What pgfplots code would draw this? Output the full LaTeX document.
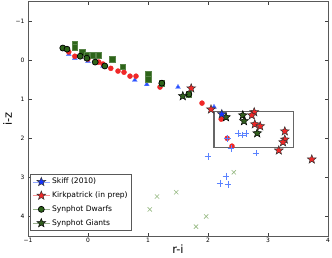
\documentclass[border=0pt]{standalone}
\usepackage{fontspec}
\setmainfont{DejaVu Sans}
\usepackage{pgfplots}
\pgfplotsset{compat=1.18}
\definecolor{mblue}{RGB}{40,80,255}
\definecolor{mred}{RGB}{240,40,40}
\definecolor{dgreen}{RGB}{45,100,25}
\definecolor{sgreen}{RGB}{50,95,30}
\definecolor{pblue}{RGB}{90,130,255}
\definecolor{xgreen}{RGB}{150,185,130}
\definecolor{sblue}{RGB}{20,50,255}
\pgfdeclareplotmark{fstar}{%
  \pgfpathmoveto{\pgfpointpolar{90}{\pgfplotmarksize}}%
  \pgfpathlineto{\pgfpointpolar{126}{0.42\pgfplotmarksize}}%
  \pgfpathlineto{\pgfpointpolar{162}{\pgfplotmarksize}}%
  \pgfpathlineto{\pgfpointpolar{198}{0.42\pgfplotmarksize}}%
  \pgfpathlineto{\pgfpointpolar{234}{\pgfplotmarksize}}%
  \pgfpathlineto{\pgfpointpolar{270}{0.42\pgfplotmarksize}}%
  \pgfpathlineto{\pgfpointpolar{306}{\pgfplotmarksize}}%
  \pgfpathlineto{\pgfpointpolar{342}{0.42\pgfplotmarksize}}%
  \pgfpathlineto{\pgfpointpolar{18}{\pgfplotmarksize}}%
  \pgfpathlineto{\pgfpointpolar{54}{0.42\pgfplotmarksize}}%
  \pgfpathclose
  \pgfusepathqfillstroke
}
\begin{document}
\begin{tikzpicture}
\path[use as bounding box] (-28bp,-22bp) rectangle (304bp,236bp);
\begin{axis}[
  scale only axis, width=300bp, height=234.5bp,
  at={(0,0)}, anchor=south west,
  xmin=-1, xmax=4, ymin=-1.5, ymax=4.5, y dir=reverse,
  xtick={-1,0,1,2,3,4}, xticklabels={−1,0,1,2,3,4},
  ytick={-1,0,1,2,3,4}, yticklabels={−1,0,1,2,3,4},
  tick align=inside, major tick length=3.5bp,
  tick style={black!75, line width=0.5pt},
  axis line style={black!65, line width=0.8pt},
  ticklabel style={font=\fontsize{6}{7}\selectfont},
  xticklabel style={yshift=1bp},
  xlabel={r-i}, ylabel={i-z},
  label style={font=\fontsize{11.5}{13}\selectfont},
  xlabel style={yshift=5bp},
  ylabel style={yshift=-3bp},
  legend style={at={(0.007,0.021)}, anchor=south west, draw=black!65, line width=0.8pt,
    font=\fontsize{7.6}{8.5}\selectfont, row sep=2.5bp, inner sep=2bp,
    cells={anchor=west}},
  legend cell align=left,
  clip=true,
]
% blue triangles
\addplot[only marks, mark=triangle*, mark size=2.8bp, draw=mblue!70, fill=mblue, forget plot] coordinates {
(-0.32,-0.15)(-0.22,-0.05)(0,0.03)(0.25,0.15)(0.78,0.51)(0.98,0.62)(1.5,0.69)(2.1,1.2)};
% red circles
\addplot[only marks, mark=*, mark size=2.5bp, draw=mred, fill=mred, forget plot] coordinates {
(-0.32,-0.21)(-0.22,-0.10)(0,-0.03)(0.18,0.05)(0.25,0.10)(0.38,0.21)(0.5,0.28)(0.6,0.31)(0.7,0.41)(0.8,0.41)(1.0,0.49)(1.2,0.69)(1.9,1.10)(2.22,1.51)(2.32,2.0)(2.4,2.2)};
% green squares
\addplot[only marks, mark=square*, mark size=2.8bp, draw=dgreen!80, fill=dgreen, forget plot] coordinates {
(-0.22,-0.42)(-0.22,-0.33)(-0.1,-0.2)(-0.02,-0.13)(0.08,-0.13)(0.18,-0.13)(0.4,-0.03)(0.58,0.17)(1.0,0.36)(1.0,0.49)(1.23,0.59)(1.68,0.87)};
% synphot dwarfs
\addplot[only marks, mark=*, mark size=3bp, draw=black, fill=dgreen, line width=0.7pt, forget plot] coordinates {
(-0.42,-0.31)(-0.35,-0.28)(-0.13,-0.10)(-0.02,-0.05)(0.12,0.05)(0.28,0.15)(1.23,0.59)(1.68,0.87)};
% synphot giants
\addplot[only marks, mark=fstar, mark size=4.6bp, draw=black, fill=sgreen, line width=0.5pt, forget plot] coordinates {
(1.58,0.92)(2.3,1.46)(2.58,1.41)(2.6,1.56)(2.82,1.87)};
% Kirkpatrick stars
\addplot[only marks, mark=fstar, mark size=4.6bp, draw=black!80, fill=mred, line width=0.5pt, forget plot] coordinates {
(1.72,0.72)(2.05,1.26)(2.77,1.33)(2.73,1.41)(2.78,1.64)(2.87,1.69)(3.28,1.82)(3.28,2.03)(3.25,2.1)(3.18,2.31)(3.73,2.54)};
% Skiff star
\addplot[only marks, mark=fstar, mark size=4.6bp, draw=black!80, fill=sblue, line width=0.5pt, forget plot] coordinates {
(2.23,1.38)};
% blue plus
\addplot[only marks, mark=+, mark size=3.3bp, draw=pblue, line width=0.6pt, forget plot] coordinates {
(2.5,1.87)(2.57,1.92)(2.63,1.87)(2.32,2.0)(2.38,2.26)(2.0,2.46)(2.8,2.38)(2.3,2.97)(2.2,3.15)(2.33,3.18)};
% green x
\addplot[only marks, mark=x, mark size=3bp, draw=xgreen, line width=0.6pt, forget plot] coordinates {
(2.43,2.87)(1.15,3.49)(1.47,3.38)(1.03,3.82)(1.97,4.0)(1.8,4.26)};
% box
\addplot[black!60, line width=1.3pt, line cap=rect, line join=miter, forget plot] coordinates {
(2.1,1.31)(3.42,1.31)(3.42,2.23)(2.1,2.23)(2.1,1.31)};
% legend
\addlegendimage{draw=mblue!50, line width=0.6pt, mark=fstar, mark size=4.6bp, mark options={draw=black!80, fill=sblue, line width=0.5pt}}
\addlegendentry{Skiff (2010)}
\addlegendimage{draw=mred!50, line width=0.6pt, mark=fstar, mark size=4.6bp, mark options={draw=black!80, fill=mred, line width=0.5pt}}
\addlegendentry{Kirkpatrick (in prep)}
\addlegendimage{draw=dgreen!50, line width=0.6pt, mark=*, mark size=3bp, mark options={draw=black, fill=dgreen, line width=0.7pt}}
\addlegendentry{Synphot Dwarfs}
\addlegendimage{draw=sgreen!50, line width=0.6pt, mark=fstar, mark size=4.6bp, mark options={draw=black, fill=sgreen, line width=0.5pt}}
\addlegendentry{Synphot Giants}
\end{axis}
\end{tikzpicture}
\end{document}
